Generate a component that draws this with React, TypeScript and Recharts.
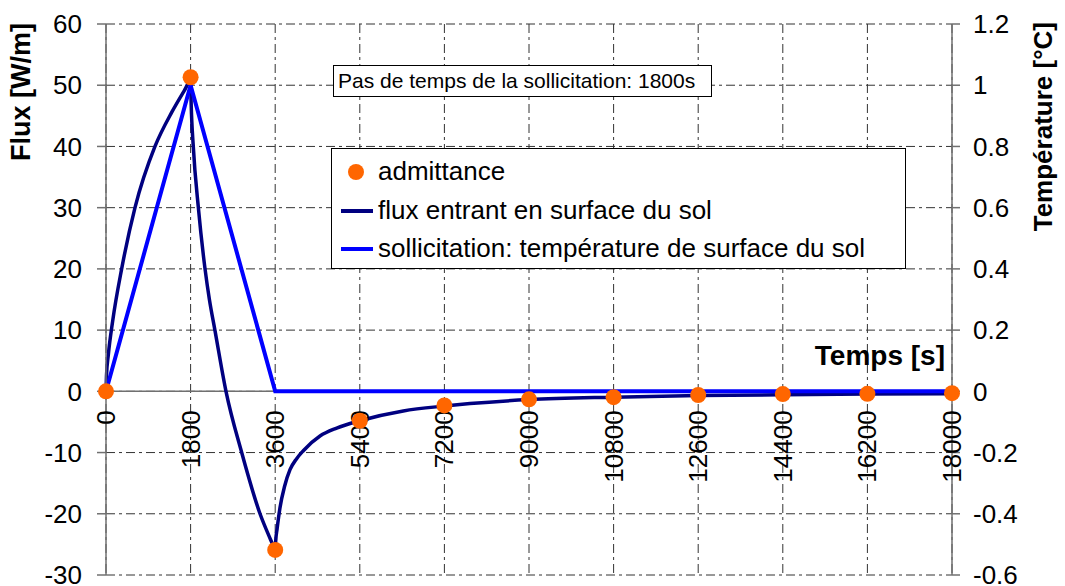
import { ComposedChart, Line, Scatter, XAxis, YAxis, CartesianGrid, ReferenceLine } from 'recharts'

const FONT = '"Liberation Sans", Arial, Helvetica, sans-serif'

// axes
const timeTicks = [0, 1800, 3600, 5400, 7200, 9000, 10800, 12600, 14400, 16200, 18000]
const fluxTicks = [-30, -20, -10, 0, 10, 20, 30, 40, 50, 60]
const tempTicks = [-0.6, -0.4, -0.2, 0, 0.2, 0.4, 0.6, 0.8, 1, 1.2]

const seriesNames = [
  'admittance',
  'flux entrant en surface du sol',
  'sollicitation: température de surface du sol',
]
const seriesColors = ['#ff6600', '#000080', '#0000ff']
const noteText = 'Pas de temps de la sollicitation: 1800s'

// admittance (points at every time step)
const admTime = [0, 1800, 3600, 5400, 7200, 9000, 10800, 12600, 14400, 16200, 18000]
const admFlux = [0, 51.3, -25.9, -4.8, -2.3, -1.3, -0.95, -0.6, -0.45, -0.4, -0.3]

// flux entrant en surface du sol
const fluxTime = [
  0, 10, 50, 142, 333, 617, 1042, 1400, 1680, 1800,
  1812, 1857, 1965, 2107, 2200, 2317, 2553, 2887, 3277, 3500, 3590, 3600,
  3610, 3640, 3702, 3800, 3915, 4056, 4198, 4553, 4908, 5400, 6325, 7200, 7745,
  9000, 10800, 12600, 14400, 16200, 18000,
]
const fluxValues = [
  0, 2.5, 6, 11.5, 20, 30, 40, 45.6, 49.3, 50.8,
  47, 40, 30, 20, 15, 10, 0, -10, -20, -24.2, -25.8, -26,
  -24.5, -22.5, -19, -15.5, -12.8, -11, -9.7, -7.3, -6, -4.8, -3.2, -2.4, -2.0,
  -1.35, -0.95, -0.7, -0.55, -0.45, -0.4,
]

// sollicitation: température de surface (right axis)
const tempTime = [0, 1800, 3600, 18000]
const tempValues = [0, 1, 0, 0]

const admData = admTime.map((t, i) => ({ t, v: admFlux[i] }))
const fluxData = fluxTime.map((t, i) => ({ t, v: fluxValues[i] }))
const tempData = tempTime.map((t, i) => ({ t, v: tempValues[i] }))
const tickData = timeTicks.map((t) => ({ t, v: 0 }))

const AdmDot = (p: any) => <circle cx={p.cx} cy={p.cy} r={8} fill={seriesColors[0]} />

// rotated time labels sitting under the zero line
const TimeLabel = (p: any) => {
  const y = p.cy + 19
  return (
    <text
      x={p.cx}
      y={y}
      transform={`rotate(-90 ${p.cx} ${y})`}
      textAnchor="end"
      dominantBaseline="central"
      fontSize={26}
      fontFamily={FONT}
      fill="#000"
    >
      {p.payload.t}
    </text>
  )
}

const LeftTitle = (props: any) => {
  const vb = props.viewBox
  const x = vb.x + 24
  const y = vb.y - 1
  return (
    <text x={x} y={y} transform={`rotate(-90 ${x} ${y})`} textAnchor="end" fontSize={27} fontWeight="bold" fontFamily={FONT} fill="#000">
      Flux [W/m]
    </text>
  )
}

const RightTitle = (props: any) => {
  const vb = props.viewBox
  const x = vb.x + 100
  const y = vb.y - 2
  return (
    <text x={x} y={y} transform={`rotate(-90 ${x} ${y})`} textAnchor="end" fontSize={26} fontWeight="bold" fontFamily={FONT} fill="#000">
      Température [°C]
    </text>
  )
}

const TimeTitle = (props: any) => {
  const vb = props.viewBox
  return (
    <text x={vb.x + vb.width - 7} y={vb.y - 26} textAnchor="end" fontSize={28} fontWeight="bold" fontFamily={FONT} fill="#000">
      Temps [s]
    </text>
  )
}

const tickStyle = { fontSize: 26, fill: '#000', fontFamily: FONT }

export default function App() {
  return (
    <div style={{ position: 'absolute', left: 0, top: 0, width: 1065, height: 586, background: '#fff', fontFamily: FONT }}>
      <ComposedChart width={1065} height={586} margin={{ top: 24, right: 13, left: 6, bottom: 11 }}>
        <CartesianGrid yAxisId="left" stroke="#333" strokeDasharray="9 4 3 4" />
        <XAxis type="number" dataKey="t" domain={[0, 18000]} ticks={timeTicks} hide />
        <YAxis
          yAxisId="left"
          orientation="left"
          width={100}
          domain={[-30, 60]}
          ticks={fluxTicks}
          interval={0}
          tick={tickStyle}
          tickSize={9}
          tickMargin={15}
          axisLine={{ stroke: '#707070', strokeWidth: 1.5 }}
          tickLine={{ stroke: '#707070', strokeWidth: 1.5 }}
          label={<LeftTitle />}
        />
        <YAxis
          yAxisId="right"
          orientation="right"
          width={100}
          domain={[-0.6, 1.2]}
          ticks={tempTicks}
          interval={0}
          tickFormatter={(v: number) => String(Math.round(v * 10) / 10)}
          tick={tickStyle}
          tickSize={8}
          tickMargin={13}
          axisLine={{ stroke: '#707070', strokeWidth: 1.5 }}
          tickLine={{ stroke: '#707070', strokeWidth: 1.5 }}
          label={<RightTitle />}
        />
        <ReferenceLine yAxisId="left" y={0} stroke="#707070" strokeWidth={1.5} label={<TimeTitle />} />
        <Scatter yAxisId="left" data={tickData} dataKey="v" shape={<TimeLabel />} isAnimationActive={false} />
        <Scatter yAxisId="left" data={admData} dataKey="v" name={seriesNames[0]} shape={<AdmDot />} isAnimationActive={false} />
        <Line
          yAxisId="left"
          data={fluxData}
          dataKey="v"
          name={seriesNames[1]}
          type="monotone"
          stroke={seriesColors[1]}
          strokeWidth={3.5}
          dot={false}
          activeDot={false}
          isAnimationActive={false}
        />
        <Line
          yAxisId="right"
          data={tempData}
          dataKey="v"
          name={seriesNames[2]}
          type="linear"
          stroke={seriesColors[2]}
          strokeWidth={4}
          dot={false}
          activeDot={false}
          isAnimationActive={false}
        />
      </ComposedChart>

      <div
        style={{
          position: 'absolute', left: 333, top: 65, width: 379, height: 32, boxSizing: 'border-box',
          border: '1.5px solid #000', background: '#fff', fontSize: 21, lineHeight: '29px', paddingLeft: 4, whiteSpace: 'nowrap',
        }}
      >
        {noteText}
      </div>

      <div
        style={{
          position: 'absolute', left: 331, top: 148, width: 575, height: 121, boxSizing: 'border-box',
          border: '1.5px solid #000', background: '#fff', fontSize: 26,
        }}
      >
        {seriesNames.map((name, i) => (
          <div key={name} style={{ position: 'absolute', left: 0, top: 3 + i * 38.5, height: 39, lineHeight: '39px', whiteSpace: 'nowrap' }}>
            <svg width={46} height={39} style={{ position: 'absolute', left: 0, top: 0 }}>
              {i === 0 ? (
                <circle cx={24} cy={20} r={8} fill={seriesColors[0]} />
              ) : (
                <line x1={9} x2={41} y1={20} y2={20} stroke={seriesColors[i]} strokeWidth={4} />
              )}
            </svg>
            <span style={{ position: 'absolute', left: 46, top: 0 }}>{name}</span>
          </div>
        ))}
      </div>
    </div>
  )
}
